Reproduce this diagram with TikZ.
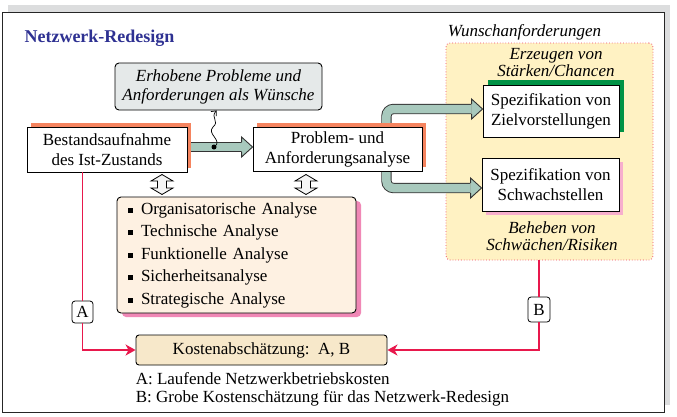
\documentclass[tikz,border=0pt]{standalone}
\usepackage{fontspec}
\setmainfont{Liberation Serif}
\usetikzlibrary{arrows.meta,positioning,shadows,calc,backgrounds}

\definecolor{titleblue}{HTML}{2E3192}
\definecolor{framegray}{HTML}{DCDDDE}
\definecolor{notegray}{HTML}{E5E9E9}
\definecolor{arrowgreen}{HTML}{A8C9BD}
\definecolor{arrowline}{HTML}{333333}
\definecolor{shadoworange}{HTML}{F5845F}
\definecolor{shadowgreen}{HTML}{009245}
\definecolor{shadowpink}{HTML}{F088B6}
\definecolor{shadowrose}{HTML}{F7AECD}
\definecolor{listfill}{HTML}{FEF1E2}
\definecolor{wishfill}{HTML}{FFF2C3}
\definecolor{wishborder}{HTML}{EF4A6A}
\definecolor{costfill}{HTML}{F7E8CA}
\definecolor{linkred}{HTML}{E8184C}

\newcommand{\sqbullet}{\rule[1.5pt]{5pt}{5pt}\hspace{8pt}}

\begin{document}
\begin{tikzpicture}[
  x=1pt, y=-1pt,
  font=\fontsize{17}{20}\selectfont,
  boxbase/.style={draw, align=center, inner sep=2pt, line width=0.9pt},
  boxO/.style={boxbase, fill=white,
              general shadow={fill=shadoworange, shadow xshift=4pt, shadow yshift=4pt}},
  boxG/.style={boxbase, fill=white,
              general shadow={fill=shadowgreen, shadow xshift=5pt, shadow yshift=5pt}},
  boxP/.style={boxbase, fill=white,
              general shadow={fill=shadowrose, shadow xshift=4pt, shadow yshift=-4pt}},
  notebox/.style={boxbase, rounded corners=4pt, fill=notegray, font=\itshape\fontsize{17}{19}\selectfont},
  listbox/.style={boxbase, rounded corners=4pt, fill=listfill, align=left,
              font=\fontsize{17}{22.5}\selectfont,
              general shadow={fill=shadowpink, shadow xshift=5pt, shadow yshift=-4pt}},
  costbox/.style={boxbase, rounded corners=3pt, fill=costfill},
  tagbox/.style={boxbase, rounded corners=3pt, fill=white, inner sep=1pt, line width=0.8pt},
  wishbox/.style={draw=wishborder, dotted, fill=wishfill, rounded corners=4pt, line width=0.8pt},
  wishtext/.style={font=\itshape\fontsize{17}{17}\selectfont, align=center},
  framebox/.style={draw=black!85, fill=white, line width=1pt,
              general shadow={fill=framegray, shadow xshift=6pt, shadow yshift=7pt}},
  blockshaft/.style={line width=0.9pt, draw=arrowline, double=arrowgreen, double distance=8.5pt},
  blockhead/.style={fill=arrowgreen, draw=arrowline, line width=0.9pt},
  dblarrow/.style={draw, fill=black!4, line width=0.8pt, line join=miter},
  redlink/.style={draw=linkred, line width=1.8pt},
  redarr/.style={redlink, -{Stealth[length=10pt, width=11pt, inset=3pt]}},
]
\useasboundingbox (0,0) rectangle (677,416);

% boxes
\node[anchor=west, font=\bfseries\fontsize{18}{20}\selectfont, text=titleblue] (titel) at (21,38) {Netzwerk-Redesign};
\node[notebox, minimum width=207, minimum height=47] (erh) at (218.5,86.5) {Erhobene Probleme und\\Anforderungen als Wünsche};
\node[boxO, minimum width=160, minimum height=45] (bestand) at (107,149.5) {Bestandsaufnahme\\des Ist-Zustands};
\node[boxO, minimum width=169, minimum height=44] (prob) at (337.5,149) {Problem- und\\Anforderungsanalyse};
\node[boxG, minimum width=136, minimum height=52] (ziel) at (551,111) {Spezifikation von\\Zielvorstellungen};
\node[boxP, minimum width=137, minimum height=53] (schwach) at (550.5,184.5) {Spezifikation von\\Schwachstellen};
\node[listbox, text width=217, inner xsep=11pt, minimum height=116] (analysen) at (236.5,255)
  {\sqbullet Organisatorische Analyse\\
   \sqbullet Technische Analyse\\
   \sqbullet Funktionelle Analyse\\
   \sqbullet Sicherheitsanalyse\\
   \sqbullet Strategische Analyse};
\node[costbox, minimum width=251, minimum height=30] (kosten) at (261.5,350) {Kostenabschätzung:~~A, B};
\node[anchor=north west, align=left, inner sep=0pt, font=\fontsize{17}{18}\selectfont] (legende)
  at ($(kosten.south west)+(0,7)$)
  {A: Laufende Netzwerkbetriebskosten\\B: Grobe Kostenschätzung für das Netzwerk-Redesign};

% double arrows between the boxes
\foreach \name/\xpos in {dL/162, dR/306} {
  \coordinate (\name) at (\xpos, 184.5);
  \draw[dblarrow] ($(\name)+(0,-10)$) -- ($(\name)+(11,-3.5)$) -- ($(\name)+(4.5,-3.5)$)
    -- ($(\name)+(4.5,3.5)$) -- ($(\name)+(11,3.5)$) -- ($(\name)+(0,10)$)
    -- ($(\name)+(-11,3.5)$) -- ($(\name)+(-4.5,3.5)$) -- ($(\name)+(-4.5,-3.5)$)
    -- ($(\name)+(-11,-3.5)$) -- cycle;
}

% tags
\node[tagbox, minimum width=21, minimum height=22] (tagA) at (82.5,312) {A};
\node[tagbox, minimum width=22, minimum height=25] (tagB) at (539,309.5) {B};

\begin{pgfonlayer}{background}
\node[framebox, minimum width=662, minimum height=400] (rahmen) at (333,212) {};
\node[wishbox, minimum width=207, minimum height=217] (wunsch) at (549.5,151.5) {};
\node[wishtext, anchor=south west, inner sep=2pt, align=left] (wunschtitel) at (wunsch.north west) {Wunschanforderungen};
\node[wishtext] (erzeugen) at (556,63) {Erzeugen von\\Stärken/Chancen};
\node[wishtext] (beheben) at (552,236) {Beheben von\\Schwächen/Risiken};

% block arrows
\coordinate (s1) at ($(bestand.east)+(-2,-2.5)$);
\coordinate (t1) at ($(prob.west)+(0,-2)$);
\draw[blockshaft] (s1) -- ($(t1)+(-11,0)$);
\filldraw[blockhead] ($(t1)+(-11,-5.15)$) -- ($(t1)+(-11,-10)$) -- (t1) -- ($(t1)+(-11,10)$) -- ($(t1)+(-11,5.15)$);

\coordinate (v) at ($(prob.north east)+(-36,0)$);
\coordinate (t2) at ($(ziel.west)+(0,-2)$);
\coordinate (t3) at ($(schwach.west)+(0,3.5)$);
\draw[blockshaft, rounded corners=7pt] ($(t2)+(-11,0)$) -| (v) |- ($(t3)+(-11,0)$);
\filldraw[blockhead] ($(t2)+(-11,-5.15)$) -- ($(t2)+(-11,-10)$) -- (t2) -- ($(t2)+(-11,10)$) -- ($(t2)+(-11,5.15)$);
\filldraw[blockhead] ($(t3)+(-11,-5.15)$) -- ($(t3)+(-11,-10)$) -- (t3) -- ($(t3)+(-11,10)$) -- ($(t3)+(-11,5.15)$);
\end{pgfonlayer}

% squiggle
\node[circle, fill=black, inner sep=0pt, minimum size=5pt] (punkt) at ($(bestand.east)!0.5!(prob.west)+(-6,-2.25)$) {};
\draw[line width=0.7pt, -{Straight Barb[length=4pt, width=7pt]}] (punkt.center)
  .. controls (224,141) and (206,134) .. (213,127)
  .. controls (220,121) and (210,118) .. ($(erh.south)+(-2,0)$);

% cost links
\draw[redlink] (bestand.south -| tagA.north) -- (tagA.north);
\draw[redarr] (tagA.south) |- (kosten.west);
\draw[redlink] (wunsch.south -| tagB.north) -- (tagB.north);
\draw[redarr] (tagB.south) |- (kosten.east);
\end{tikzpicture}
\end{document}
